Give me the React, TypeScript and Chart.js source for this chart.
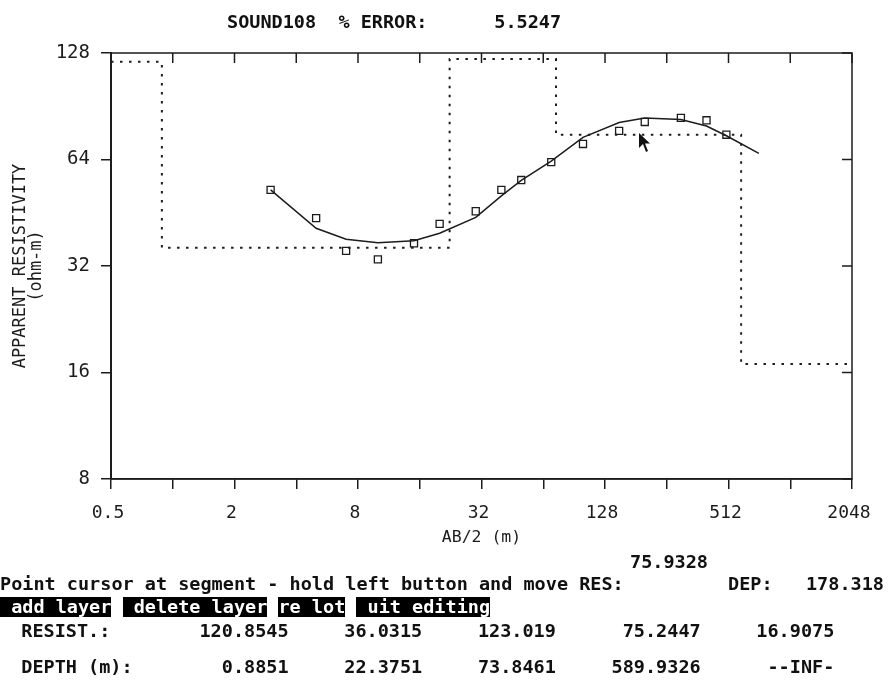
import { useEffect, useRef } from "react";
import { Chart, registerables } from "chart.js";

Chart.register(...registerables);

// Sounding SOUND108: observed apparent resistivity against AB/2
const abHalf = [3, 5, 7, 10, 15, 20, 30, 40, 50, 70, 100, 150, 200, 300, 400, 500];
const rhoObserved = [52.5, 43.7, 35.3, 33.4, 37.1, 42.1, 45.7, 52.5, 56.0, 62.9, 70.8, 77.1, 81.7, 83.9, 82.6, 75.2];

// Computed response of the layered model
const modelAbHalf = [3, 5, 7, 10, 15, 20, 30, 40, 50, 70, 100, 150, 200, 300, 400, 500, 720];
const rhoModel = [52.5, 40.9, 38.1, 37.2, 37.7, 39.6, 43.9, 50.5, 55.9, 63.3, 73.9, 81.4, 83.9, 83.0, 79.6, 74.7, 66.6];

// Layer model (resistivity per layer, depth to the bottom of each layer)
const layerResist = [120.8545, 36.0315, 123.019, 75.2447, 16.9075];
const layerDepth = [0.8851, 22.3751, 73.8461, 589.9326];

// Axes
const xTicks = [0.5, 1, 2, 4, 8, 16, 32, 64, 128, 256, 512, 1024, 2048];
const xTickLabels = [0.5, 2, 8, 32, 128, 512, 2048];
const yTicks = [8, 16, 32, 64, 128];

// Status texts
const soundingName = "SOUND108";
const percentError = "5.5247";
const cursorRes = "75.9328";
const cursorDep = "178.318";
const promptText = "Point cursor at segment - hold left button and move RES:";
const menuLabels = [" add layer", " delete layer", "re lot", " uit editing"];

const INK = "#1c1c1c";
const AXIS_FONT = '"DejaVu Sans Mono", monospace';
const CELL = 891 / 80;

const framePlugin = {
  id: "frame",
  afterDraw(chart: any) {
    const { ctx, chartArea, scales } = chart;
    const { left, right, top, bottom } = chartArea;
    ctx.save();
    ctx.strokeStyle = INK;
    ctx.lineWidth = 1.5;
    ctx.strokeRect(left, top, right - left, bottom - top);
    ctx.beginPath();
    for (const t of scales.x.ticks) {
      const px = scales.x.getPixelForValue(t.value);
      ctx.moveTo(px, top);
      ctx.lineTo(px, top + 10);
    }
    for (const t of scales.y.ticks) {
      const py = scales.y.getPixelForValue(t.value);
      ctx.moveTo(right, py);
      ctx.lineTo(right - 10, py);
    }
    ctx.stroke();
    ctx.restore();
  },
};

const textStyle: any = {
  position: "absolute",
  font: 'bold 18.5px "DejaVu Sans Mono", monospace',
  lineHeight: "20px",
  whiteSpace: "pre",
  color: "#111",
  margin: 0,
};

function Txt({ x, top, children, inverse, width }: any) {
  return (
    <div
      style={{
        ...textStyle,
        left: x,
        top,
        height: inverse ? 20 : undefined,
        width,
        background: inverse ? "#000" : undefined,
        color: inverse ? "#fff" : "#111",
      }}
    >
      {children}
    </div>
  );
}

export default function App() {
  const ref = useRef<HTMLCanvasElement>(null);

  useEffect(() => {
    const canvas = ref.current;
    if (!canvas) return;

    const observed = abHalf.map((x, i) => ({ x, y: rhoObserved[i] }));
    const model = modelAbHalf.map((x, i) => ({ x, y: rhoModel[i] }));

    const steps: { x: number; y: number }[] = [{ x: 0.5, y: layerResist[0] }];
    layerDepth.forEach((d, i) => {
      steps.push({ x: d, y: layerResist[i] });
      steps.push({ x: d, y: layerResist[i + 1] });
    });
    steps.push({ x: 2048, y: layerResist[layerResist.length - 1] });

    const chart = new Chart(canvas, {
      type: "line",
      data: {
        datasets: [
          {
            label: "Layers",
            data: steps,
            borderColor: INK,
            borderWidth: 2,
            borderDash: [2.5, 6.5],
            pointRadius: 0,
            tension: 0,
            fill: false,
          },
          {
            label: "Model",
            data: model,
            borderColor: INK,
            borderWidth: 1.5,
            pointRadius: 0,
            tension: 0,
            fill: false,
          },
          {
            label: "Observed",
            data: observed,
            showLine: false,
            pointStyle: "rect",
            pointRadius: 5,
            pointBorderWidth: 1.3,
            pointBorderColor: INK,
            pointBackgroundColor: "rgba(0,0,0,0)",
            borderColor: INK,
          },
        ],
      },
      options: {
        responsive: false,
        animation: false,
        layout: { padding: { top: 53, right: 39, bottom: 138, left: 0 } },
        plugins: {
          legend: { display: false },
          tooltip: { enabled: false },
          title: { display: false },
        },
        scales: {
          x: {
            type: "logarithmic",
            min: 0.5,
            max: 2048,
            afterBuildTicks: (s: any) => {
              s.ticks = xTicks.map((v) => ({ value: v }));
            },
            afterFit: (s: any) => {
              s.height = 69;
            },
            ticks: {
              autoSkip: false,
              maxRotation: 0,
              padding: 14,
              labelOffset: -3,
              color: INK,
              font: { family: AXIS_FONT, size: 18 },
              callback: (v: any) => (xTickLabels.includes(Number(v)) ? String(v) : ""),
            },
            grid: { drawOnChartArea: false, drawTicks: true, tickLength: 10, color: INK, lineWidth: 1.5 },
            border: { display: true, color: INK, width: 1.5 },
            title: {
              display: true,
              text: "AB/2 (m)",
              color: INK,
              font: { family: AXIS_FONT, size: 16.5 },
              padding: { top: 0, bottom: 0 },
            },
          },
          y: {
            type: "logarithmic",
            min: 8,
            max: 128,
            afterBuildTicks: (s: any) => {
              s.ticks = yTicks.map((v) => ({ value: v }));
            },
            afterFit: (s: any) => {
              s.width = 111;
            },
            ticks: {
              padding: 11,
              color: INK,
              font: { family: AXIS_FONT, size: 19 },
              callback: (v: any) => String(v),
            },
            grid: { drawOnChartArea: false, drawTicks: true, tickLength: 10, color: INK, lineWidth: 1.5 },
            border: { display: true, color: INK, width: 2 },
            title: {
              display: true,
              text: ["APPARENT RESISTIVITY", "(ohm-m)"],
              color: INK,
              font: { family: AXIS_FONT, size: 17, lineHeight: "16px" },
              padding: { top: 13, bottom: 0 },
            },
          },
        },
      } as any,
      plugins: [framePlugin],
    });

    return () => chart.destroy();
  }, []);

  const menuCols = [0, 11, 25, 32];
  const resistCols = [18, 31, 43, 56, 68];
  const depthCols = [20, 31, 43, 55, 69];

  return (
    <div style={{ position: "absolute", left: 0, top: 0, width: 891, height: 686, background: "#fff", overflow: "hidden" }}>
      <canvas ref={ref} width={891} height={686} style={{ position: "absolute", left: 0, top: 0 }} />

      <Txt x={227} top={11.6}>{`${soundingName}  % ERROR:      ${percentError}`}</Txt>

      <svg width="14" height="22" style={{ position: "absolute", left: 638, top: 133 }}>
        <polygon points="1,0 1,15 5,11 8,19 10,18 7,10.5 12,10.5" fill="#111" />
      </svg>

      <Txt x={630} top={551.5}>{cursorRes}</Txt>
      <Txt x={0} top={574}>{promptText}</Txt>
      <Txt x={728} top={574}>{`DEP:   ${cursorDep}`}</Txt>

      {menuLabels.map((m, i) => (
        <Txt key={m} x={menuCols[i] * CELL} top={597} width={m.length * CELL} inverse>
          {m}
        </Txt>
      ))}

      <Txt x={2 * CELL - 1} top={621}>RESIST.:</Txt>
      {layerResist.map((r, i) => (
        <Txt key={"r" + i} x={resistCols[i] * CELL - 1} top={621}>
          {String(r)}
        </Txt>
      ))}

      <Txt x={2 * CELL - 1} top={656.5}>DEPTH (m):</Txt>
      {layerDepth.map((d, i) => (
        <Txt key={"d" + i} x={depthCols[i] * CELL - 1} top={656.5}>
          {String(d)}
        </Txt>
      ))}
      <Txt x={depthCols[4] * CELL - 1} top={656.5}>--INF-</Txt>
    </div>
  );
}
